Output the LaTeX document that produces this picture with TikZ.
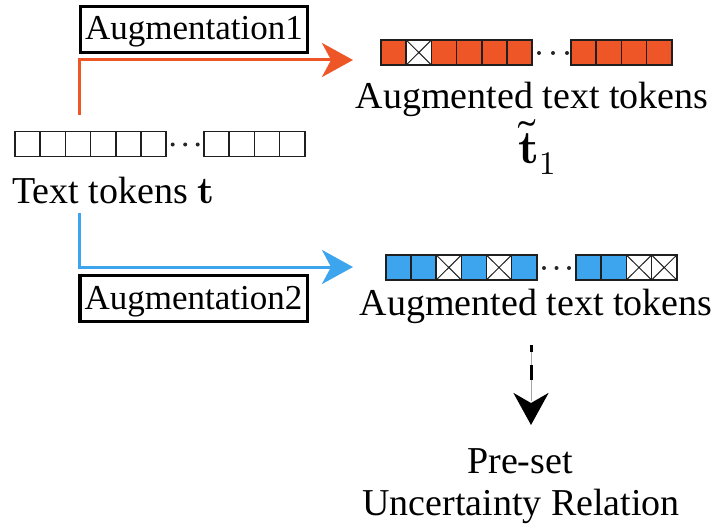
\documentclass[tikz,border=0pt]{standalone}
\usepackage{unicode-math}
\setmainfont{Liberation Serif}
\setmathfont{Latin Modern Math}
\usetikzlibrary{arrows.meta}
\definecolor{augorange}{HTML}{EE5527}
\definecolor{augblue}{HTML}{3DA5EE}
\tikzset{
  cell/.style={draw=black!88, line width=1.6pt, minimum width=25.2pt,
    minimum height=25pt, inner sep=0pt, outer sep=0pt},
  wcell/.style={cell, fill=white},
  ocell/.style={cell, fill=augorange},
  bcell/.style={cell, fill=augblue},
  xcell/.style={cell, fill=white, path picture={
    \draw[line width=1pt]
      (path picture bounding box.south west) -- (path picture bounding box.north east)
      (path picture bounding box.north west) -- (path picture bounding box.south east);}},
  bigtext/.style={inner sep=0pt, font=\fontsize{38}{44}\selectfont},
  mathtext/.style={inner sep=0pt, font=\fontsize{47}{52}\selectfont},
  augbox/.style={draw, line width=2.2pt, inner sep=0pt, minimum width=228pt,
    minimum height=47pt, text height=26pt, text depth=5pt,
    font=\fontsize{35}{40}\selectfont},
  flow/.style={line width=3pt, draw=#1,
    -{Stealth[length=31pt, width=34pt, inset=9pt, fill=#1]}},
  dot/.style={fill=black!85}
}
\begin{document}
\begin{tikzpicture}[x=1pt, y=-1pt]
  \useasboundingbox (0,0) rectangle (720,527);

  % input token row
  \foreach \i in {0,...,5} \node[wcell] (t\i) at ({27.6+25.2*\i},144) {};
  \foreach \i in {0,...,3} \node[wcell] (s\i) at ({216.6+25.2*\i},144) {};
  \foreach \x in {172.7,185.2,197.7} \fill[dot] (\x,144.5) circle (2pt);
  \node[bigtext, anchor=base west] (txt) at (12,203) {Text tokens $\symbf{t}$};

  % first augmented row
  \foreach \s [count=\i from 0] in {ocell,xcell,ocell,ocell,ocell,ocell}
    \node[\s] (u\i) at ({393.6+25.2*\i},52.5) {};
  \foreach \i in {0,...,3} \node[ocell] (v\i) at ({583.6+25.2*\i},52.5) {};
  \foreach \x in {539,553,567} \fill[dot] (\x,53) circle (2pt);
  \node[bigtext, anchor=base] (aug1txt) at (532,108) {Augmented text tokens};
  \node[mathtext, anchor=base] (tt1) at (537,163) {$\widetilde{\symbf{t}}_1$};

  % second augmented row
  \foreach \s [count=\i from 0] in {bcell,bcell,xcell,bcell,xcell,bcell}
    \node[\s] (p\i) at ({398.6+25.1*\i},267.5) {};
  \foreach \s [count=\i from 0] in {bcell,bcell,xcell,xcell}
    \node[\s] (q\i) at ({588.6+25.2*\i},267.5) {};
  \foreach \x in {544,556.5,569} \fill[dot] (\x,268) circle (2pt);
  \node[bigtext, anchor=base] (aug2txt) at (536,315) {Augmented text tokens};

  % augmentation labels
  \node[augbox] (aug1) at (194,29.5) {Augmentation1};
  \draw[line width=0.7pt] ([shift={(2.6pt,-2.6pt)}]aug1.north west)
    rectangle ([shift={(-2.6pt,2.6pt)}]aug1.south east);
  \node[augbox] (aug2) at (193.5,298.5) {Augmentation2};
  \draw[line width=0.7pt] ([shift={(2.6pt,-2.6pt)}]aug2.north west)
    rectangle ([shift={(-2.6pt,2.6pt)}]aug2.south east);

  % branch arrows
  \coordinate (in1) at (353,60);
  \coordinate (in2) at (353,267);
  \draw[flow=augorange] ([xshift=1.5pt, yshift=16.5pt]t2.north) |- (in1);
  \draw[flow=augblue] ([xshift=1.5pt, yshift=-56.5pt]t2.south) |- (in2);

  % relation target
  \node[bigtext, anchor=base] (pre) at (520,473) {Pre-set};
  \node[bigtext, anchor=base] (unc) at (521,515) {Uncertainty Relation};

  \coordinate (dtop) at (531,345);
  \coordinate (dtip) at (531,425);
  \draw[black!35, line width=1pt] (dtop) -- ([yshift=24pt]dtip);
  \draw[line width=3pt, dash pattern=on 7pt off 13pt on 15pt off 80pt,
    -{Stealth[length=32pt, width=35pt, inset=10pt]}] (dtop) -- (dtip);
\end{tikzpicture}
\end{document}
